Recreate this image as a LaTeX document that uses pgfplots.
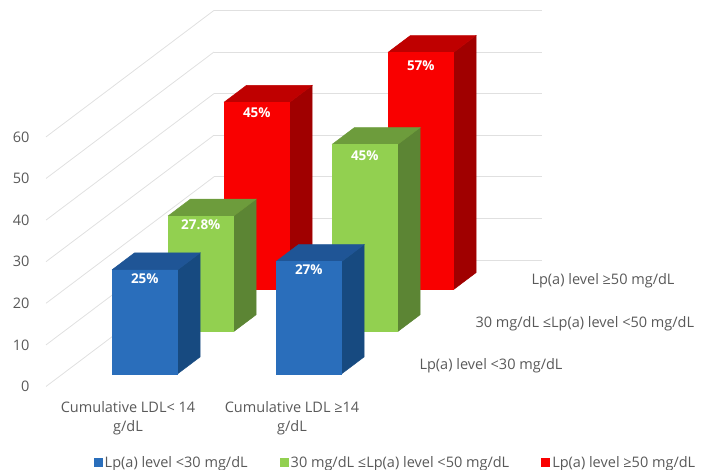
\documentclass[border=0pt]{standalone}
\usepackage{fontspec}
\setmainfont{Open Sans}
\usepackage{pgfplots}
\pgfplotsset{compat=1.18}

\definecolor{txt}{HTML}{595959}
\definecolor{gridc}{HTML}{E0E0E0}
\definecolor{blueF}{HTML}{2A6EBB}
\definecolor{blueT}{HTML}{1F5596}
\definecolor{blueS}{HTML}{174A80}
\definecolor{greenF}{HTML}{92D050}
\definecolor{greenT}{HTML}{6D9C3C}
\definecolor{greenS}{HTML}{5C8534}
\definecolor{redF}{HTML}{F90000}
\definecolor{redT}{HTML}{BF0000}
\definecolor{redS}{HTML}{A00000}

% One cuboid: x0, x1, x centre, y0, y1, value, colour stem, label, label drop
\newcommand{\cuboid}[9]{%
  \addplot3[forget plot, draw=#7S, line width=.5pt, fill=#7S, mark=none] coordinates {(#2,#4,0) (#2,#5,0) (#2,#5,#6) (#2,#4,#6) (#2,#4,0)};
  \addplot3[forget plot, draw=#7T, line width=.5pt, fill=#7T, mark=none] coordinates {(#1,#4,#6) (#2,#4,#6) (#2,#5,#6) (#1,#5,#6) (#1,#4,#6)};
  \addplot3[forget plot, draw=#7F, line width=.5pt, fill=#7F, mark=none] coordinates {(#1,#4,0) (#2,#4,0) (#2,#4,#6) (#1,#4,#6) (#1,#4,0)};
  \node[text=white, font=\fontsize{13.5}{15}\selectfont\bfseries, anchor=center, yshift=-#9pt] at (axis cs:#3,#4,#6) {#8};
}

\begin{document}
\begin{tikzpicture}[x=1pt,y=1pt]
\useasboundingbox (0,0) rectangle (709,470);
\begin{axis}[
  at={(46pt,83.5pt)}, anchor=origin,
  x={(164pt,0pt)}, y={(56pt,42.17pt)}, z={(0pt,4.16pt)},
  xmin=0, xmax=2, ymin=0, ymax=3, zmin=0, zmax=60,
  clip=false,
  axis line style={draw=none},
  major tick length=0pt,
  tick style={draw=none},
  zmajorgrids, xmajorgrids=false, ymajorgrids=false,
  major grid style={gridc, line width=.8pt},
  ztick={0,10,20,30,40,50,60},
  xtick={0.5,1.5},
  xticklabels={Cumulative LDL< 14\\g/dL, Cumulative LDL ≥14\\g/dL},
  ytick={0.5,1.5,2.5},
  yticklabels={Lp(a) level <30 mg/dL, 30 mg/dL ≤Lp(a) level <50 mg/dL, Lp(a) level ≥50 mg/dL},
  /pgf/number format/assume math mode=true,
  xticklabel pos=lower, yticklabel pos=lower, zticklabel pos=lower,
  tick label style={text=txt, font=\fontsize{14.5}{19}\selectfont},
  x tick label style={align=center, anchor=north, yshift=-11.5pt},
  y tick label style={anchor=west, xshift=14pt},
  z tick label style={anchor=east, xshift=-13pt},
  legend columns=3,
  legend style={draw=none, fill=none, at={(axis description cs:0.7046,-0.202)}, anchor=center,
    font=\fontsize{14.5}{16}\selectfont, text=txt, /tikz/every even column/.style={column sep=30pt}},
  legend image code/.code={\fill[#1] (0pt,-4.5pt) rectangle (9pt,4.5pt);},
]
\addlegendimage{draw=none, fill=blueF}\addlegendentry{Lp(a) level <30 mg/dL}
\addlegendimage{draw=none, fill=greenF}\addlegendentry{30 mg/dL ≤Lp(a) level <50 mg/dL}
\addlegendimage{draw=none, fill=redF}\addlegendentry{Lp(a) level ≥50 mg/dL}

% Back row to front row so nearer bars overlap further ones
\cuboid{0.3}{0.7}{0.5}{2.3}{2.7}{45}{red}{45\%}{10.5}
\cuboid{1.3}{1.7}{1.5}{2.3}{2.7}{57}{red}{57\%}{13.5}
\cuboid{0.3}{0.7}{0.5}{1.3}{1.7}{27.8}{green}{27.8\%}{9}
\cuboid{1.3}{1.7}{1.5}{1.3}{1.7}{45}{green}{45\%}{11}
\cuboid{0.3}{0.7}{0.5}{0.3}{0.7}{25}{blue}{25\%}{8.5}
\cuboid{1.3}{1.7}{1.5}{0.3}{0.7}{27}{blue}{27\%}{8}
\end{axis}
\end{tikzpicture}
\end{document}
